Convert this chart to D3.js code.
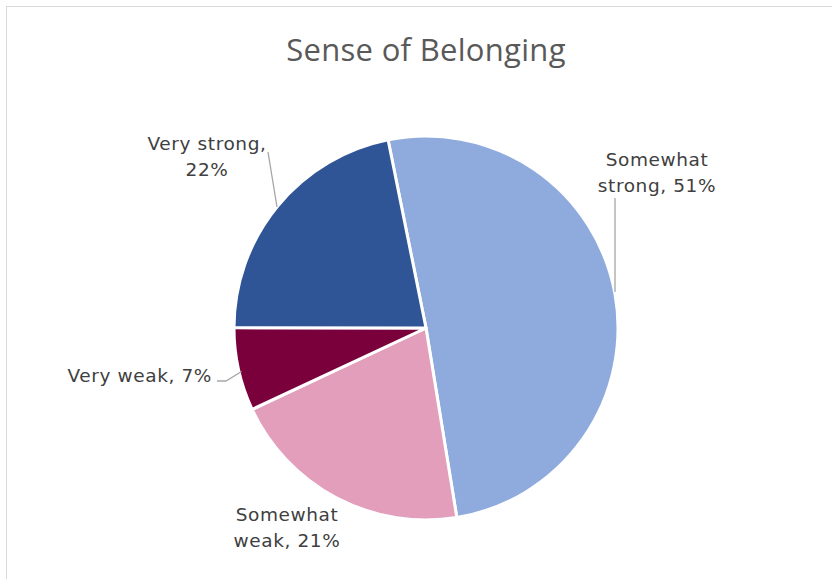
<!DOCTYPE html>
<html><head><meta charset="utf-8">
<script src="https://cdn.jsdelivr.net/npm/d3@7"></script>
<style>body{margin:0;background:#fff}svg{display:block}</style>
</head><body>
<svg id="c" width="832" height="579"></svg>
<script>
const categories = ["Somewhat strong", "Somewhat weak", "Very weak", "Very strong"];
const values = [50.6, 20.6, 7.0, 21.8];
const colors = ["#8FAADC", "#E29EBB", "#7A003C", "#2F5597"];
const title = "Sense of Belonging";

const svg = d3.select("#c");
svg.append("rect").attr("x",6.5).attr("y",6.5).attr("width",900).attr("height",700)
  .attr("fill","#fff").attr("stroke","#d9d9d9").attr("stroke-width",1);

svg.append("text").attr("x",426).attr("y",61).attr("text-anchor","middle")
  .attr("font-family","'Open Sans', sans-serif").attr("font-size",31).attr("fill","#595959")
  .attr("letter-spacing",0.3)
  .text(title);

const cx = 426, cy = 328, r = 192;
const startA = -11.4 * Math.PI / 180;
const pie = d3.pie().sort(null).value(d => d).startAngle(startA).endAngle(startA + 2*Math.PI);
const arcs = pie(values);
const arc = d3.arc().innerRadius(0).outerRadius(r);
const g = svg.append("g").attr("transform", `translate(${cx},${cy})`);
g.selectAll("path").data(arcs).join("path")
  .attr("d", arc).attr("fill", (d,i) => colors[i])
  .attr("stroke","#fff").attr("stroke-width",3).attr("stroke-linejoin","round");

// labels
const labelFont = "'DejaVu Sans', sans-serif";
const labels = [
  {lines:["Somewhat","strong, " + Math.round(values[0]) + "%"], x:657, y:166, anchor:"middle"},
  {lines:["Somewhat","weak, " + Math.round(values[1]) + "%"], x:287, y:521, anchor:"middle"},
  {lines:["Very weak, " + Math.round(values[2]) + "%"], x:212, y:382, anchor:"end"},
  {lines:["Very strong,", Math.round(values[3]) + "%"], x:207, y:150, anchor:"middle"}
];
labels.forEach(l => {
  const t = svg.append("text").attr("font-family",labelFont).attr("font-size",18.5)
    .attr("letter-spacing",0.6)
    .attr("fill","#404040").attr("text-anchor",l.anchor);
  l.lines.forEach((s,k) => t.append("tspan").attr("x",l.x).attr("y",l.y + k*26).text(s));
});

// leader lines
const pt = (d) => { const a = (d.startAngle + d.endAngle)/2; return [cx + r*Math.sin(a), cy - r*Math.cos(a)]; };
const lc = "#a6a6a6";
svg.append("path").attr("d", d3.line()([[615,198],[615,292]])).attr("stroke",lc).attr("fill","none").attr("stroke-width",1.3);
const p2 = pt(arcs[2]);
svg.append("path").attr("d", d3.line()([[217,381],[226,381],[p2[0]+3,p2[1]+2]])).attr("stroke",lc).attr("fill","none").attr("stroke-width",1.3);
svg.append("path").attr("d", d3.line()([[268,152],[277,207]])).attr("stroke",lc).attr("fill","none").attr("stroke-width",1.3);
</script>
</body></html>
